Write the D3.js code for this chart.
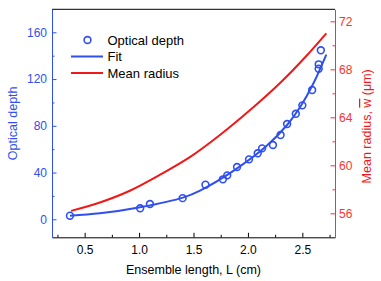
<!DOCTYPE html>
<html>
<head>
<meta charset="utf-8">
<script src="https://cdn.jsdelivr.net/npm/d3@7"></script>
<style>
  body { margin: 0; background: #fff; }
  svg text { font-family: Arial, "Liberation Sans", sans-serif; }
</style>
</head>
<body>
<div id="chart"></div>
<script>
// measured optical depth vs ensemble length
const lengthL = [0.365, 1.01, 1.10, 1.40, 1.61, 1.77, 1.81, 1.90, 2.01, 2.09, 2.13, 2.23, 2.30, 2.36, 2.44, 2.50, 2.59, 2.65, 2.65, 2.67]
const opticalDepth = [3.1, 9.4, 13.1, 18.1, 29.6, 34.2, 37.6, 44.7, 51.3, 56.5, 60.7, 63.6, 72.1, 81.5, 90.3, 97.5, 110.6, 128.8, 132.6, 144.6]

// fit curve
const fitL = [0.365, 0.64, 1.01, 1.41, 1.56, 1.87, 2.17, 2.36, 2.48, 2.60, 2.72]
const fitDepth = [3.1, 5.1, 10.3, 18.8, 24.6, 41.7, 62.7, 80.7, 96.1, 116.0, 141.0]

// mean radius curve (right axis)
const radiusL = [0.375, 0.64, 0.92, 1.19, 1.47, 1.74, 2.02, 2.30, 2.53, 2.72]
const meanRadius = [56.2, 56.9, 57.9, 59.2, 60.7, 62.5, 64.6, 66.9, 69.05, 71.0]

const xMajor = [0.5, 1.0, 1.5, 2.0, 2.5]
const xMinor = [0.25, 0.75, 1.25, 1.75, 2.25, 2.75]
const yMajor = [0, 40, 80, 120, 160]
const yMinor = [20, 60, 100, 140]
const rMajor = [56, 60, 64, 68, 72]
const rMinor = [58, 62, 66, 70]

const legendNames = ["Optical depth", "Fit", "Mean radius"]

const blue = "#2f4ff0"
const red = "#f01818"

let width = 381,
    height = 281
let margin = {left: 52, right: 46, top: 9.3, bottom: 43.7}
let x0 = margin.left, x1 = width - margin.right
let y0 = height - margin.bottom, y1 = margin.top

let svg = d3.select("#chart").append("svg")
    .attr("width", width)
    .attr("height", height)

let x = d3.scaleLinear().domain([0.2, 2.8]).range([x0, x1])
let y = d3.scaleLinear().domain([-15.4, 179.7]).range([y0, y1])
let yr = d3.scaleLinear().domain([54, 73]).range([y0, y1])

// top frame line
svg.append("line")
    .attr("x1", x0).attr("x2", x1)
    .attr("y1", y1).attr("y2", y1)
    .attr("stroke", "#000").attr("stroke-width", 1)

function styleAxis(g, color) {
    g.select(".domain").attr("stroke", color).attr("stroke-width", 1)
    g.selectAll(".tick line").attr("stroke", color).attr("stroke-width", 1)
    g.selectAll(".tick text").attr("fill", color).attr("font-size", 12)
        .attr("font-family", "Arial, 'Liberation Sans', sans-serif")
}

// bottom axis
let gx = svg.append("g").attr("transform", `translate(0,${y0})`)
    .call(d3.axisBottom(x).tickValues(xMajor).tickSize(-4.5).tickPadding(8).tickFormat(d3.format(".1f")).tickSizeOuter(0))
styleAxis(gx, "#000")
let gxm = svg.append("g").attr("transform", `translate(0,${y0})`)
    .call(d3.axisBottom(x).tickValues(xMinor).tickSize(-2.5).tickFormat("").tickSizeOuter(0))
gxm.select(".domain").remove()
gxm.selectAll(".tick line").attr("stroke", "#000")

// left axis
let gy = svg.append("g").attr("transform", `translate(${x0},0)`)
    .call(d3.axisLeft(y).tickValues(yMajor).tickSize(-4.5).tickPadding(5).tickSizeOuter(0))
styleAxis(gy, blue)
let gym = svg.append("g").attr("transform", `translate(${x0},0)`)
    .call(d3.axisLeft(y).tickValues(yMinor).tickSize(-2.5).tickFormat("").tickSizeOuter(0))
gym.select(".domain").remove()
gym.selectAll(".tick line").attr("stroke", blue)

// right axis
let gr = svg.append("g").attr("transform", `translate(${x1},0)`)
    .call(d3.axisRight(yr).tickValues(rMajor).tickSize(-4.5).tickPadding(4).tickSizeOuter(0))
styleAxis(gr, "#ff3030")
let grm = svg.append("g").attr("transform", `translate(${x1},0)`)
    .call(d3.axisRight(yr).tickValues(rMinor).tickSize(-2.5).tickFormat("").tickSizeOuter(0))
grm.select(".domain").remove()
grm.selectAll(".tick line").attr("stroke", "#ff3030")

// axis titles
svg.append("text")
    .attr("x", (x0 + x1) / 2).attr("y", 274)
    .attr("text-anchor", "middle").attr("font-size", 12.5)
    .text("Ensemble length, L (cm)")

svg.append("text")
    .attr("transform", `translate(17,${(y0 + y1) / 2}) rotate(-90)`)
    .attr("text-anchor", "middle").attr("font-size", 12.5).attr("fill", blue)
    .text("Optical depth")

let rt = svg.append("text")
    .attr("transform", `translate(371,${(y0 + y1) / 2 + 3}) rotate(-90)`)
    .attr("text-anchor", "middle").attr("font-size", 12.5).attr("fill", red)
rt.append("tspan").text("Mean radius, ")
rt.append("tspan").style("text-decoration", "overline").text("w")
rt.append("tspan").text(" (\u03bcm)")

// curves
let fitData = fitL.map((d, i) => ({L: d, v: fitDepth[i]}))
let radData = radiusL.map((d, i) => ({L: d, v: meanRadius[i]}))

svg.append("path").datum(radData)
    .attr("fill", "none").attr("stroke", red).attr("stroke-width", 2)
    .attr("d", d3.line().x(d => x(d.L)).y(d => yr(d.v)).curve(d3.curveCatmullRom.alpha(0.5)))

svg.append("path").datum(fitData)
    .attr("fill", "none").attr("stroke", blue).attr("stroke-width", 2)
    .attr("d", d3.line().x(d => x(d.L)).y(d => y(d.v)).curve(d3.curveCatmullRom.alpha(0.5)))

svg.selectAll(".pt")
    .data(lengthL.map((d, i) => ({L: d, v: opticalDepth[i]})))
    .enter().append("circle")
    .attr("class", "pt")
    .attr("cx", d => x(d.L))
    .attr("cy", d => y(d.v))
    .attr("r", 3.4)
    .attr("fill", "none")
    .attr("stroke", blue)
    .attr("stroke-width", 1.6)

// legend
let legend = svg.append("g").attr("transform", "translate(71,40)")
legendNames.forEach((name, i) => {
    let row = legend.append("g").attr("transform", `translate(0,${i * 16.5})`)
    if (i === 0) {
        row.append("circle").attr("cx", 16.5).attr("cy", 0).attr("r", 3.4)
            .attr("fill", "none").attr("stroke", blue).attr("stroke-width", 1.6)
    } else {
        row.append("line").attr("x1", 0).attr("x2", 32).attr("y1", 0).attr("y2", 0)
            .attr("stroke", i === 1 ? blue : red).attr("stroke-width", 2)
    }
    row.append("text").attr("x", 36.5).attr("y", 0).attr("dy", "0.36em")
        .attr("font-size", 13).text(name)
})
</script>
</body>
</html>
